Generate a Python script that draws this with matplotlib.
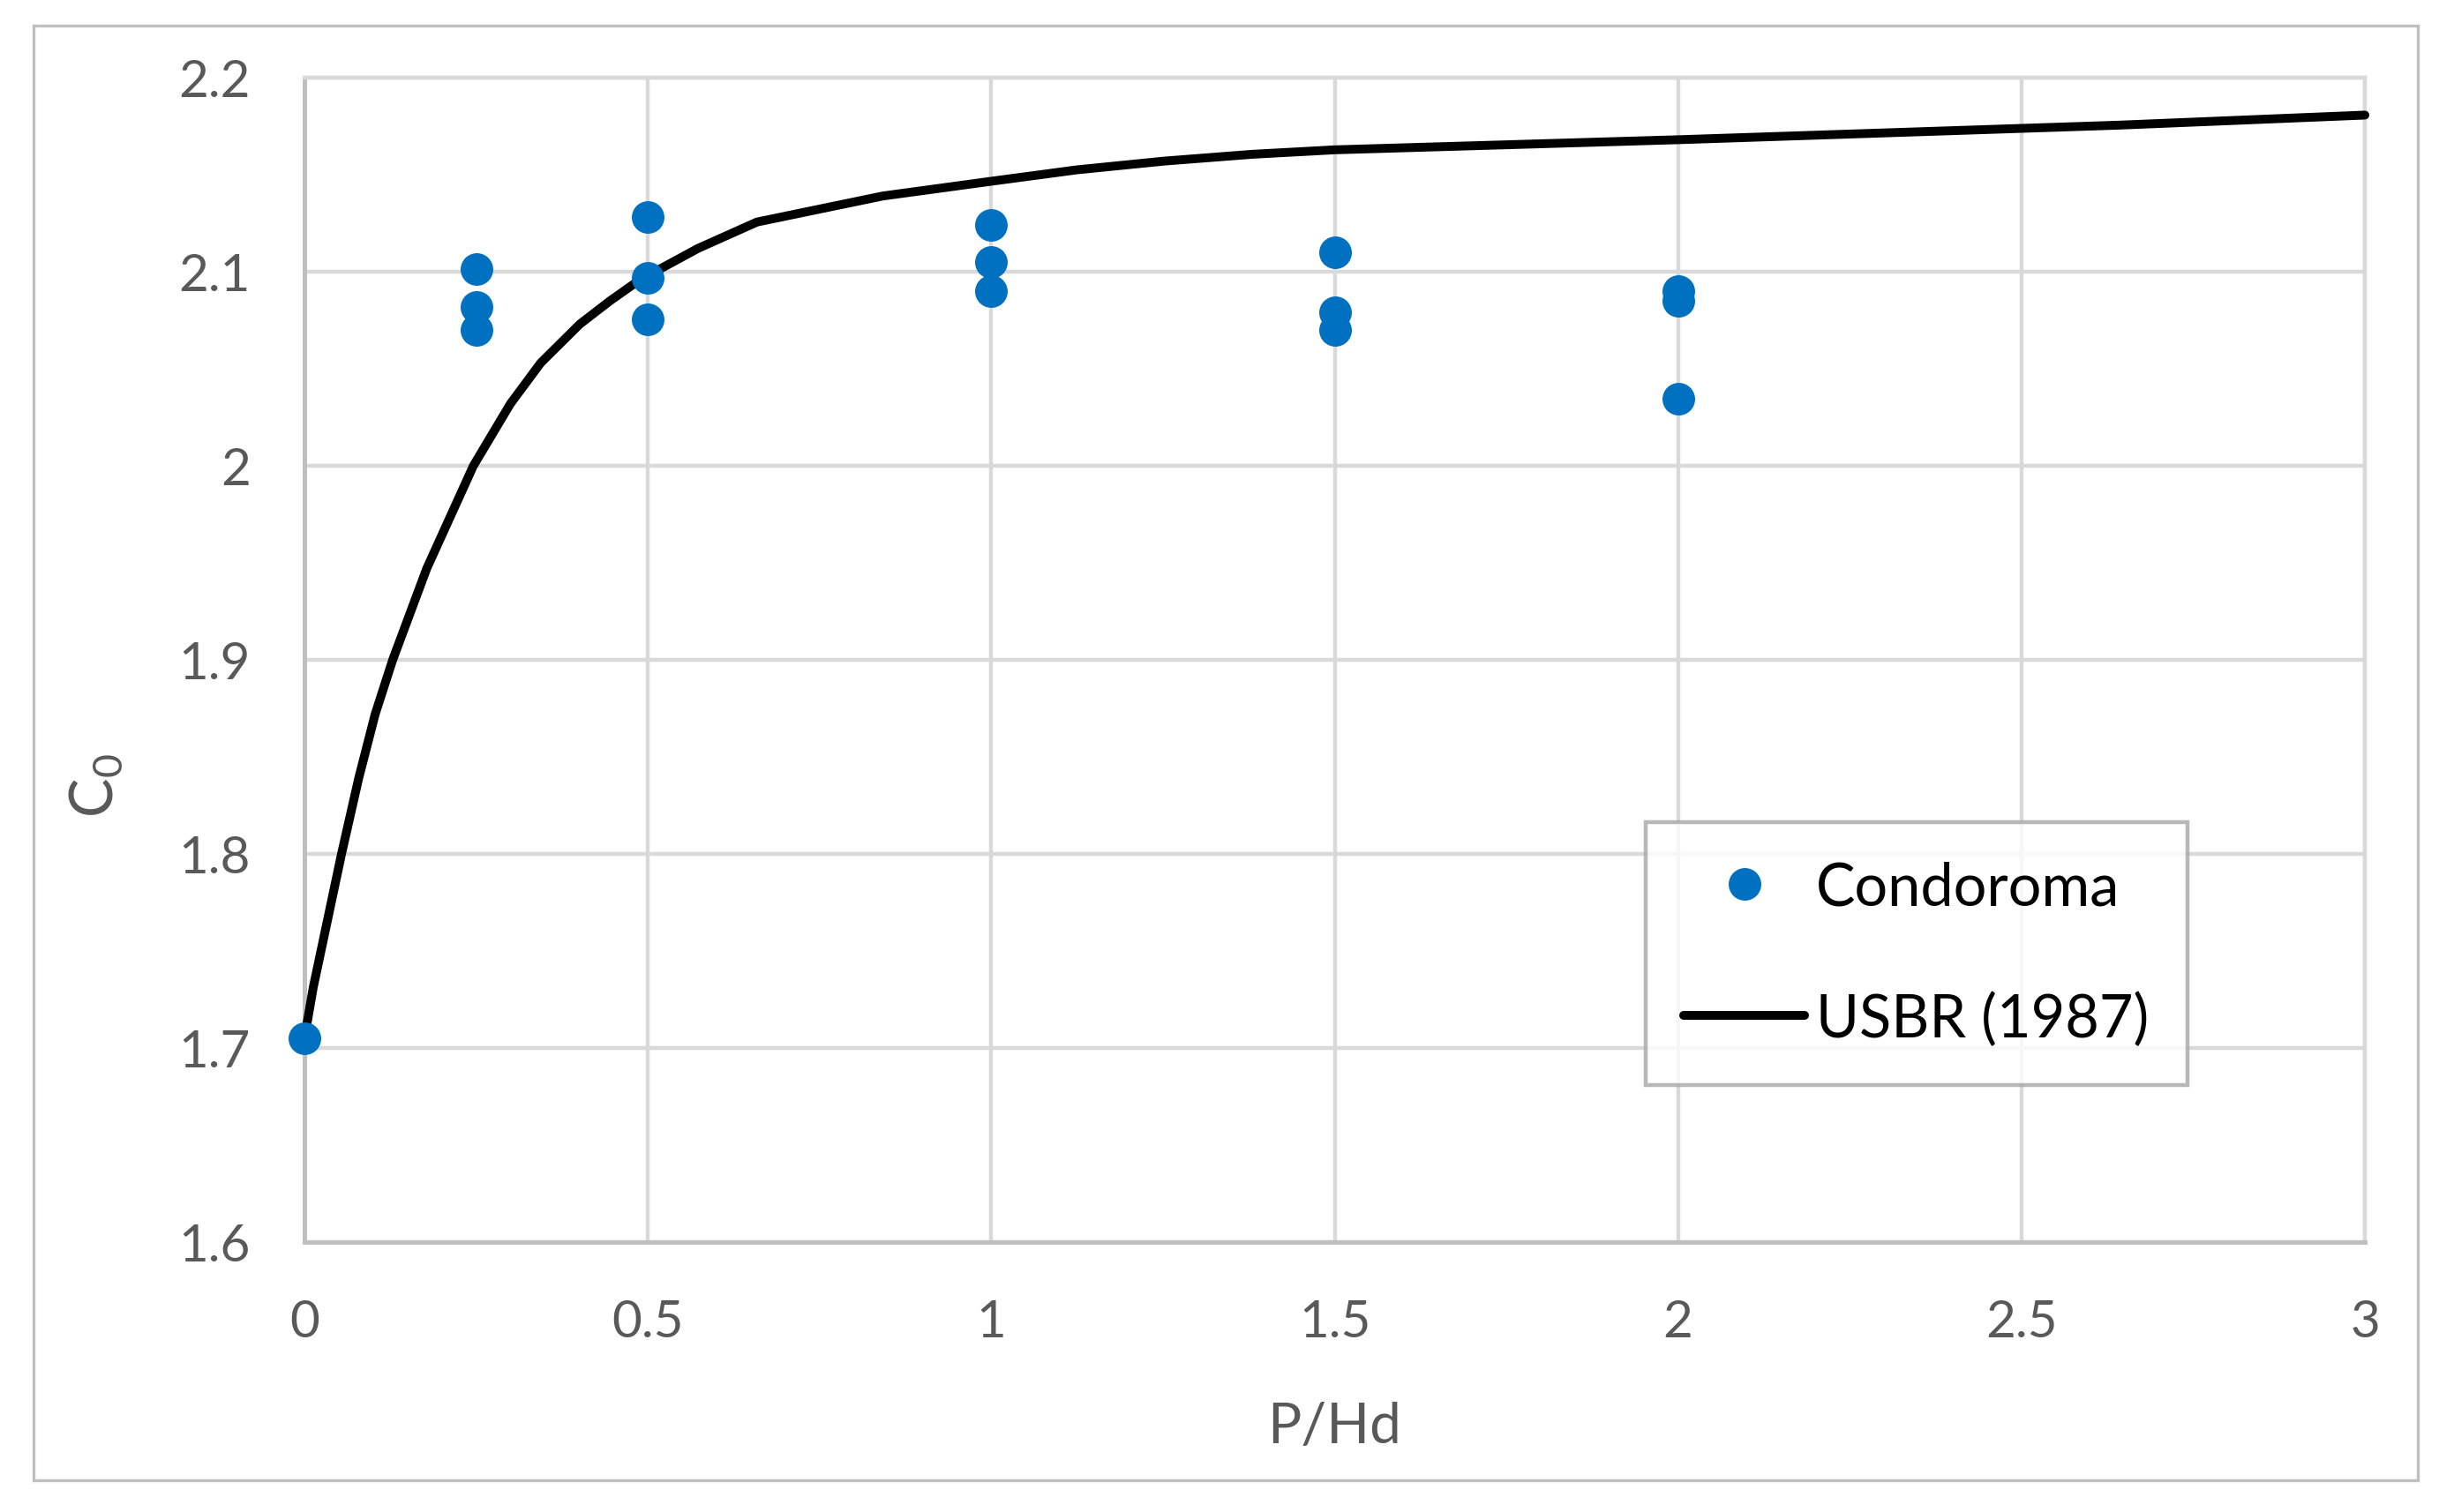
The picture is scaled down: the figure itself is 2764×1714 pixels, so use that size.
import matplotlib
matplotlib.use("Agg")
import matplotlib.pyplot as plt
from matplotlib.patches import Rectangle

# ---- data ----
cond_x = [0, 0.25, 0.25, 0.25, 0.5, 0.5, 0.5, 1, 1, 1, 1.5, 1.5, 1.5, 2, 2, 2]
cond_y = [1.705, 2.1015, 2.082, 2.070, 2.128, 2.097, 2.0755, 2.124, 2.105, 2.090,
          2.110, 2.079, 2.070, 2.090, 2.085, 2.0345]

usbr_x = [0, 0.013, 0.054, 0.079, 0.103, 0.1285, 0.178, 0.246, 0.30, 0.344, 0.401,
          0.445, 0.487, 0.573, 0.659, 0.842, 1.0, 1.125, 1.252, 1.38, 1.5, 2.0,
          2.641, 3.0]
usbr_y = [1.705, 1.7315, 1.80, 1.839, 1.872, 1.90, 1.947, 2.00, 2.032, 2.053, 2.073,
          2.085, 2.0955, 2.112, 2.1256, 2.139, 2.1466, 2.1525, 2.157, 2.1605, 2.1628,
          2.168, 2.1755, 2.1807]

xticks = [0, 0.5, 1, 1.5, 2, 2.5, 3]
xtick_labels = ["0", "0.5", "1", "1.5", "2", "2.5", "3"]
yticks = [1.6, 1.7, 1.8, 1.9, 2.0, 2.1, 2.2]
ytick_labels = ["1.6", "1.7", "1.8", "1.9", "2", "2.1", "2.2"]

plt.rcParams['font.family'] = ['Lato', 'DejaVu Sans']
plt.rcParams['mathtext.fontset'] = 'custom'
plt.rcParams['mathtext.rm'] = 'Lato'

W, H, DPI = 2764, 1715, 200
fig = plt.figure(figsize=(W / DPI, H / DPI), dpi=DPI)
L, R, T, B = 345, 2680, 89, 1409
ax = fig.add_axes([L / W, 1 - B / H, (R - L) / W, (B - T) / H])

grid_c = '#d9d9d9'
ax.set_xlim(0, 3)
ax.set_ylim(1.6, 2.2)
ax.set_xticks(xticks)
ax.set_xticklabels(xtick_labels)
ax.set_yticks(yticks)
ax.set_yticklabels(ytick_labels)
ax.grid(True, color=grid_c, linewidth=1.6)
ax.set_axisbelow(True)
for s in ['top', 'right']:
    ax.spines[s].set_color(grid_c)
    ax.spines[s].set_linewidth(1.6)
for s in ['left', 'bottom']:
    ax.spines[s].set_color('#bfbfbf')
    ax.spines[s].set_linewidth(1.8)
ax.tick_params(length=0, labelsize=21, labelcolor='#595959')
ax.tick_params(axis='x', pad=23)
ax.tick_params(axis='y', pad=22)

ax.plot(usbr_x, usbr_y, color='black', linewidth=3.6, solid_capstyle='round',
        solid_joinstyle='round', label='USBR (1987)', zorder=3, clip_on=False)
ax.plot(cond_x, cond_y, linestyle='none', marker='o', markersize=13.3,
        color='#0070C0', markeredgewidth=0, label='Condoroma', zorder=4,
        clip_on=False)

ax.set_xlabel('P/Hd', fontsize=23, color='#595959')
ax.xaxis.set_label_coords(0.5, -0.158)
ax.xaxis.label.set_verticalalignment('center')
ax.set_ylabel(r'$\mathrm{C}_\mathrm{0}$', fontsize=24, color='#595959')
ax.yaxis.set_label_coords(-0.101, 0.393)
ax.yaxis.label.set_verticalalignment('center')

h, l = ax.get_legend_handles_labels()
leg = ax.legend([h[1], h[0]], [l[1], l[0]], loc='upper left',
                bbox_to_anchor=((1865 - L) / (R - L), (B - 933) / (B - T)),
                borderaxespad=0, fontsize=24, frameon=True, fancybox=False,
                borderpad=0.65, labelspacing=1.3, handlelength=2.05,
                handletextpad=0.2, numpoints=1)
leg.get_frame().set_edgecolor('#a6a6a6')
leg.get_frame().set_linewidth(1.6)
leg.set_zorder(5)
for t in leg.get_texts():
    t.set_color('black')

# outer chart frame
fig.patches.append(Rectangle((38 / W, 1 - 1679 / H), (2740 - 38) / W, (1679 - 30) / H,
                             transform=fig.transFigure, fill=False,
                             edgecolor='#bfbfbf', linewidth=1.2))

fig.savefig('out.png', dpi=DPI, facecolor='white')
